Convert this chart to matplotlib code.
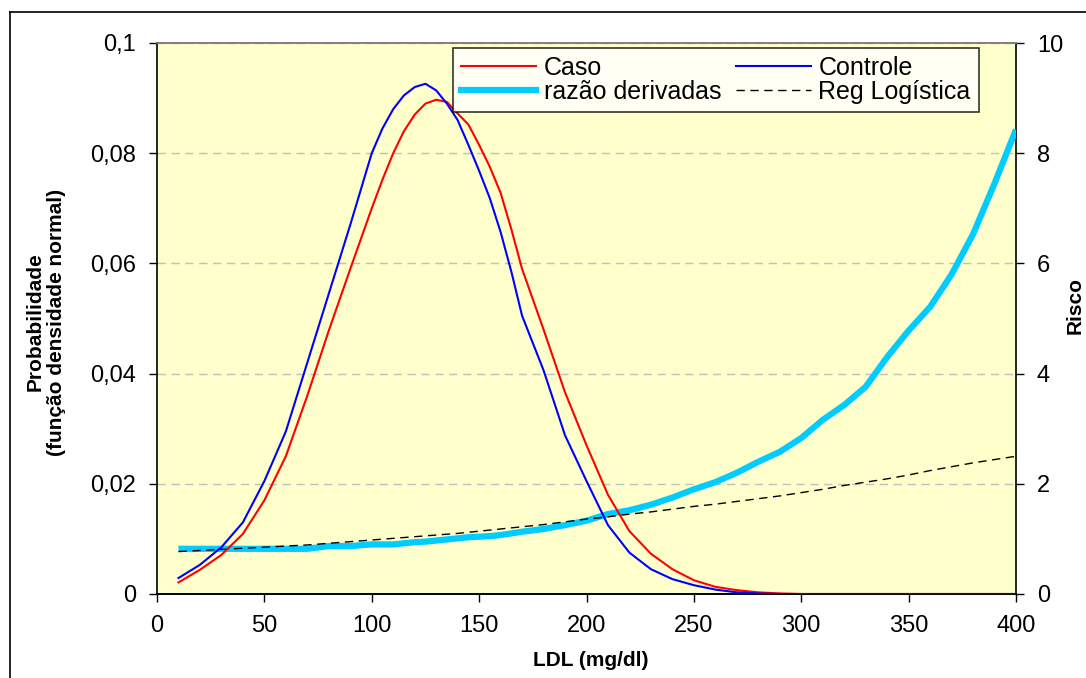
import numpy as np
import matplotlib
matplotlib.use("Agg")
import matplotlib.pyplot as plt
from matplotlib.lines import Line2D

plt.rcParams["font.family"] = ["Liberation Sans", "DejaVu Sans"]

# LDL (mg/dl)
ldl = [10, 20, 30, 40, 50, 60, 70, 80, 90, 100,
       105, 110, 115, 120, 125, 130, 135, 140, 145, 150,
       155, 160, 165, 170, 180, 190,
       200, 210, 220, 230, 240, 250, 260, 270, 280, 290,
       300, 310, 320, 330, 340, 350, 360, 370, 380, 390, 400]

caso = [0.0021, 0.0044, 0.0071, 0.0109, 0.0170, 0.0250, 0.0360, 0.0478, 0.0590, 0.0700,
        0.0752, 0.0800, 0.0840, 0.0870, 0.0890, 0.0897, 0.0893, 0.0872, 0.0852, 0.0815,
        0.0775, 0.0728, 0.0662, 0.0590, 0.0480, 0.0366,
        0.0270, 0.0180, 0.0114, 0.0073, 0.0045, 0.0025, 0.0013, 0.0007, 0.0003, 0.0001,
        0, 0, 0, 0, 0, 0, 0, 0, 0, 0, 0]

controle = [0.0029, 0.0053, 0.0085, 0.0130, 0.0205, 0.0295, 0.0420, 0.0545, 0.0670, 0.0800,
            0.0845, 0.0880, 0.0905, 0.0920, 0.0926, 0.0914, 0.0890, 0.0860, 0.0815, 0.0768,
            0.0718, 0.0657, 0.0585, 0.0505, 0.0406, 0.0288,
            0.0205, 0.0125, 0.0075, 0.0045, 0.0027, 0.0016, 0.0008, 0.0003, 0.0001, 0,
            0, 0, 0, 0, 0, 0, 0, 0, 0, 0, 0]

razao = [0.82, 0.82, 0.82, 0.82, 0.82, 0.82, 0.82, 0.87, 0.87, 0.90,
         0.90, 0.90, 0.92, 0.94, 0.95, 0.97, 0.99, 1.01, 1.03, 1.04,
         1.05, 1.07, 1.10, 1.13, 1.18, 1.25,
         1.33, 1.45, 1.52, 1.62, 1.75, 1.90, 2.03, 2.20, 2.40, 2.58,
         2.83, 3.16, 3.43, 3.76, 4.30, 4.78, 5.21, 5.80, 6.53, 7.45, 8.43]

reg_log = [0.77, 0.79, 0.81, 0.83, 0.85, 0.87, 0.89, 0.92, 0.95, 0.98,
           0.995, 1.01, 1.025, 1.04, 1.055, 1.07, 1.085, 1.10, 1.12, 1.14,
           1.16, 1.18, 1.20, 1.22, 1.26, 1.31,
           1.36, 1.40, 1.45, 1.49, 1.54, 1.59, 1.63, 1.68, 1.73, 1.78,
           1.84, 1.90, 1.97, 2.03, 2.09, 2.16, 2.24, 2.31, 2.38, 2.44, 2.50]

left_ticks = [0, 0.02, 0.04, 0.06, 0.08, 0.1]
left_labels = ["0", "0,02", "0,04", "0,06", "0,08", "0,1"]
right_ticks = [0, 2, 4, 6, 8, 10]
x_ticks = [0, 50, 100, 150, 200, 250, 300, 350, 400]

W, H = 1086, 678
fig = plt.figure(figsize=(W / 100, H / 100), dpi=100)

# posição da área do gráfico (em pixels da figura)
x0, x1, y0, y1 = 157, 1016, 43, 594
ax2 = fig.add_axes([x0 / W, 1 - y1 / H, (x1 - x0) / W, (y1 - y0) / H])
ax = fig.add_axes(ax2.get_position(), sharex=ax2)
ax.patch.set_visible(False)

# eixo secundário (risco) fica por baixo, com o fundo amarelo
ax2.set_facecolor("#FFFFCC")
ax2.yaxis.tick_right()
ax2.yaxis.set_label_position("right")
ax2.plot(ldl, razao, color="#00CCFF", lw=4.5, solid_capstyle="butt", zorder=3)
ax2.plot(ldl, reg_log, color="black", lw=1.0, dashes=(6, 4), zorder=4)
ax2.set_ylim(0, 10)
ax2.set_yticks(right_ticks)
ax2.set_xlim(0, 400)
ax2.set_xticks(x_ticks)
ax2.grid(axis="y", color="#C0C0C0", ls=(0, (6, 4)), lw=1.0)
ax2.set_axisbelow(True)

# eixo principal (probabilidade)
ax.plot(ldl, caso, color="#FF0000", lw=1.5, zorder=5)
ax.plot(ldl, controle, color="#0000FF", lw=1.5, zorder=5)
ax.set_ylim(0, 0.1)
ax.set_yticks(left_ticks)
ax.set_yticklabels(left_labels)
ax.set_xlim(0, 400)

for a in (ax, ax2):
    for s in a.spines.values():
        s.set_color("black")
        s.set_linewidth(1.2)
    a.spines["top"].set_color("#808080")
    a.tick_params(direction="out", length=6, width=1.0, labelsize=17, pad=9)

ax.tick_params(axis="x", labelbottom=False, length=0)
ax.spines["right"].set_visible(False)
ax2.spines["left"].set_visible(False)
ax.tick_params(axis="y", right=False, labelright=False)
ax2.tick_params(axis="y", left=False, labelleft=False)

fig.text(591 / W, 1 - 661 / H, "LDL (mg/dl)", ha="center", va="center",
         fontsize=15, fontweight="bold")
fig.text(46 / W, 1 - 322 / H, "Probabilidade\n(função densidade normal)",
         rotation=90, ha="center", va="center", multialignment="center",
         fontsize=15, fontweight="bold", linespacing=1.2)
fig.text(1075 / W, 1 - 305 / H, "Risco", rotation=90, ha="center", va="center",
         fontsize=15, fontweight="bold")

handles = [
    Line2D([], [], color="#FF0000", lw=1.5),
    Line2D([], [], color="#00CCFF", lw=4.5),
    Line2D([], [], color="#0000FF", lw=1.5),
    Line2D([], [], color="black", lw=1.0, dashes=(6, 4)),
]
labels = ["Caso", "razão derivadas", "Controle", "Reg Logística"]
leg = ax.legend(handles, labels, ncol=2, loc="upper left",
                bbox_to_anchor=((453 - x0) / (x1 - x0), 1 - (48 - y0) / (y1 - y0)),
                fontsize=18, frameon=True, fancybox=False, borderpad=0.32,
                handlelength=3.0, handletextpad=0.3, columnspacing=0.6,
                labelspacing=0.0, borderaxespad=0)
leg.get_frame().set_edgecolor("black")
leg.get_frame().set_linewidth(1.2)
leg.set_zorder(10)

# moldura externa do gráfico
fig.add_artist(Line2D([10 / W, 1], [1 - 12 / H, 1 - 12 / H], color="black", lw=1.2))
fig.add_artist(Line2D([10 / W, 10 / W], [0, 1 - 12 / H], color="black", lw=1.2))

fig.savefig("out.png", dpi=100)
